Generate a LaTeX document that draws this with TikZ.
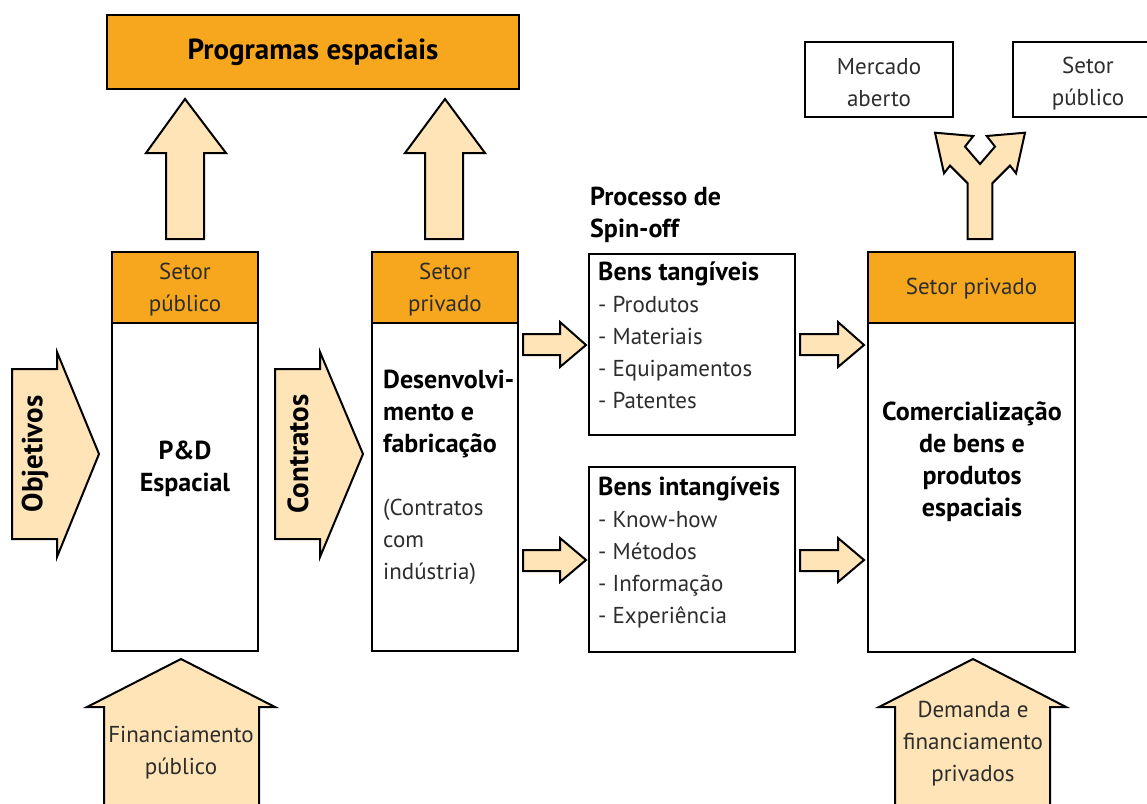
\documentclass[tikz,border=0pt]{standalone}
\usepackage{fontspec}
\setmainfont{PT Sans}
\definecolor{orng}{RGB}{246,167,30}
\definecolor{peach}{RGB}{254,228,182}
\definecolor{txt}{RGB}{45,45,45}
\begin{document}
\begin{tikzpicture}[x=1pt,y=-1pt,
  box/.style={draw=black, line width=2.5pt, fill=white, inner sep=0pt},
  hdr/.style={draw=black, line width=2.5pt, fill=orng, inner sep=0pt},
  barr/.style={draw=black, line width=2pt, fill=peach, line join=miter},
  reg/.style={font=\fontsize{23}{32}\selectfont, text=txt, align=center, inner sep=0pt},
  bld/.style={font=\fontsize{26}{32}\selectfont\bfseries, text=black, align=center, inner sep=0pt},
  bigbld/.style={font=\fontsize{29}{32}\selectfont\bfseries, text=black, align=center, inner sep=0pt},
]
\useasboundingbox (0,0) rectangle (1147,803);
\clip (0,0) rectangle (1147,803);

% top box
\node[hdr, minimum width=412pt, minimum height=74pt, bigbld] (prog) at (313,52) {Programas espaciais};

% up arrows
\draw[barr] (166,239) -- (166,153) -- (146,153) -- (185,99) -- (226,153) -- (204,153) -- (204,239) -- cycle;
\draw[barr] (425,239) -- (425,153) -- (405,153) -- (445,99) -- (485,153) -- (463,153) -- (463,239) -- cycle;

% column 1
\node[hdr, minimum width=146pt, minimum height=71pt] (hdr1) at (185,287.5) {};
\node[reg] (hdr1t) at ([yshift=-2pt]hdr1.center) {Setor\\público};
\node[box, minimum width=146pt, minimum height=328pt] (body1) at (185,487) {};
\node[bld] (pd) at (185,469) {P\&D\\Espacial};

% column 2
\node[hdr, minimum width=146pt, minimum height=71pt] (hdr2) at (445,287.5) {};
\node[reg] (hdr2t) at ([yshift=-2pt]hdr2.center) {Setor\\privado};
\node[box, minimum width=146pt, minimum height=328pt] (body2) at (445,487) {};
\node[bld, align=left, anchor=west] (desen) at (383,414) {Desenvolvi-\\mento e\\fabricação};
\node[reg, align=left, anchor=west] (contr) at (383,542) {(Contratos\\com\\indústria)};

% left arrows
\draw[barr] (12,369) -- (57,369) -- (57,352) -- (99,454) -- (57,557) -- (57,539) -- (12,539) -- cycle;
\node[bigbld, rotate=90] (obj) at (35,454) {Objetivos};
\draw[barr] (275,369) -- (320,369) -- (320,352) -- (363,454) -- (320,557) -- (320,539) -- (275,539) -- cycle;
\node[bigbld, rotate=90] (ctr) at (298,454) {Contratos};

% spin-off
\node[bld, align=left, anchor=west] (spin) at (590,215) {Processo de\\Spin-off};
\node[box, minimum width=206pt, minimum height=181pt] (tang) at (692,344.5) {};
\node[reg, align=left, anchor=west] (tangt) at (598,335.5) {{\fontsize{26}{32}\selectfont\bfseries\color{black}Bens tangíveis}\\- Produtos\\- Materiais\\- Equipamentos\\- Patentes};
\node[box, minimum width=206pt, minimum height=185pt] (intang) at (692,559.5) {};
\node[reg, align=left, anchor=west] (intangt) at (598,552) {{\fontsize{26}{32}\selectfont\bfseries\color{black}Bens intangíveis}\\- Know-how\\- Métodos\\- Informação\\- Experiência};

% small right arrows
\draw[barr] (523,334) -- (560,334) -- (560,322) -- (586,345) -- (560,367) -- (560,355) -- (523,355) -- cycle;
\draw[barr] (800,334) -- (838,334) -- (838,322) -- (864,345) -- (838,367) -- (838,355) -- (800,355) -- cycle;
\draw[barr] (523,550) -- (560,550) -- (560,538) -- (586,560) -- (560,582) -- (560,571) -- (523,571) -- cycle;
\draw[barr] (800,550) -- (838,550) -- (838,538) -- (864,560) -- (838,582) -- (838,571) -- (800,571) -- cycle;

% column 3
\node[hdr, minimum width=207pt, minimum height=71pt] (hdr3) at (971.5,287.5) {};
\node[reg] (hdr3t) at ([yshift=-1pt]hdr3.center) {Setor privado};
\node[box, minimum width=207pt, minimum height=329pt] (body3) at (971.5,487.5) {};
\node[bld] (comerc) at (972,462) {Comercialização\\de bens e\\produtos\\espaciais};

% top right boxes
\node[box, minimum width=148pt, minimum height=75pt] (merc) at (879,79.5) {};
\node[reg] (merct) at ([yshift=-3pt]merc.center) {Mercado\\aberto};
\node[box, minimum width=150pt, minimum height=75pt] (setpub) at (1088,79.5) {};
\node[reg] (setpubt) at ([yshift=-4pt]setpub.center) {Setor\\público};

% fork arrow
\draw[barr] (967.7,239) -- (967.7,183.3) -- (950,165.6) -- (944,173.3) -- (935,132.7) -- (973.3,136)
  -- (965,146.6) -- (980,164) -- (995,146.6) -- (986.7,136) -- (1025,132.7) -- (1016,173.3)
  -- (1010,165.6) -- (992.3,183.3) -- (992.3,239) -- cycle;

% bottom arrows
\fill[peach] (104,810) -- (104,707) -- (87,707) -- (181,659) -- (275,707) -- (259,707) -- (259,810) -- cycle;
\draw[black, line width=2pt, line join=miter] (104,810) -- (104,707) -- (87,707) -- (181,659) -- (275,707) -- (259,707) -- (259,810);
\node[reg] (fin) at (181,752.5) {Financiamento\\público};
\fill[peach] (895,810) -- (895,707) -- (879,707) -- (973,659) -- (1066,707) -- (1050,707) -- (1050,810) -- cycle;
\draw[black, line width=2pt, line join=miter] (895,810) -- (895,707) -- (879,707) -- (973,659) -- (1066,707) -- (1050,707) -- (1050,810);
\node[reg] (dem) at (973,744) {Demanda e\\financiamento\\privados};
\end{tikzpicture}
\end{document}
